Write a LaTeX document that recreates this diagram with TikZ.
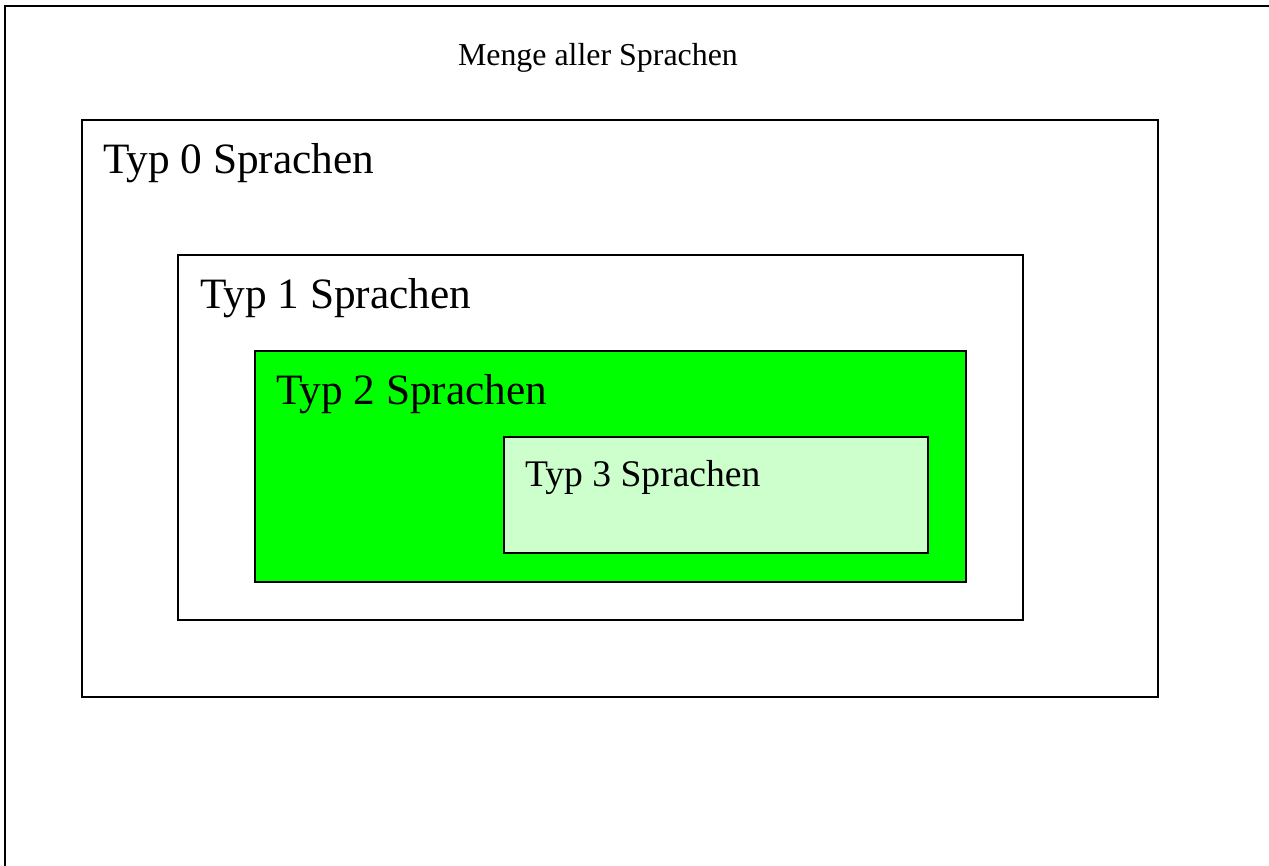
\documentclass[tikz,border=0pt]{standalone}
\usepackage{fontspec}
\setmainfont{Liberation Serif}
\begin{document}
\begin{tikzpicture}[x=1pt,y=-1pt,
  setbox/.style={draw=black, anchor=north west, inner sep=0pt, outer sep=0pt},
  setlabel/.style={anchor=base west, inner sep=0pt, outer sep=0pt, text=black},
  bigtext/.style={font=\fontsize{43.3}{50}\selectfont}]
  \useasboundingbox (0,0) rectangle (1269,866);
  \fill[white] (0,0) rectangle (1269,866);

  % frame of the whole set of languages
  \coordinate (fb) at (5,875);
  \coordinate (fc) at (5,6);
  \coordinate (fr) at (1275,6);
  \draw[line width=2.2pt] (fb) -- (fc) -- (fr);
  \node[setlabel, font=\fontsize{31.9}{36}\selectfont] (lall) at (458,66) {Menge aller Sprachen};

  % nested Chomsky classes
  \node[setbox, line width=2pt, minimum width=1076pt, minimum height=577pt] (t0) at (82,120) {};
  \node[setlabel, bigtext] (l0) at (103,174) {Typ 0 Sprachen};

  \node[setbox, line width=1.3pt, minimum width=845pt, minimum height=365pt] (t1) at (178,255) {};
  \node[setlabel, bigtext] (l1) at (200,309) {Typ 1 Sprachen};

  \node[setbox, line width=1.5pt, fill={rgb,255:red,0;green,255;blue,0}, minimum width=711pt, minimum height=231pt] (t2) at (255,351) {};
  \node[setlabel, bigtext] (l2) at (276,405) {Typ 2 Sprachen};

  \node[setbox, line width=1.5pt, fill={rgb,255:red,204;green,255;blue,204}, minimum width=424pt, minimum height=116pt] (t3) at (504,437) {};
  \node[setlabel, font=\fontsize{37.6}{44}\selectfont] (l3) at (525,486) {Typ 3 Sprachen};
\end{tikzpicture}
\end{document}
